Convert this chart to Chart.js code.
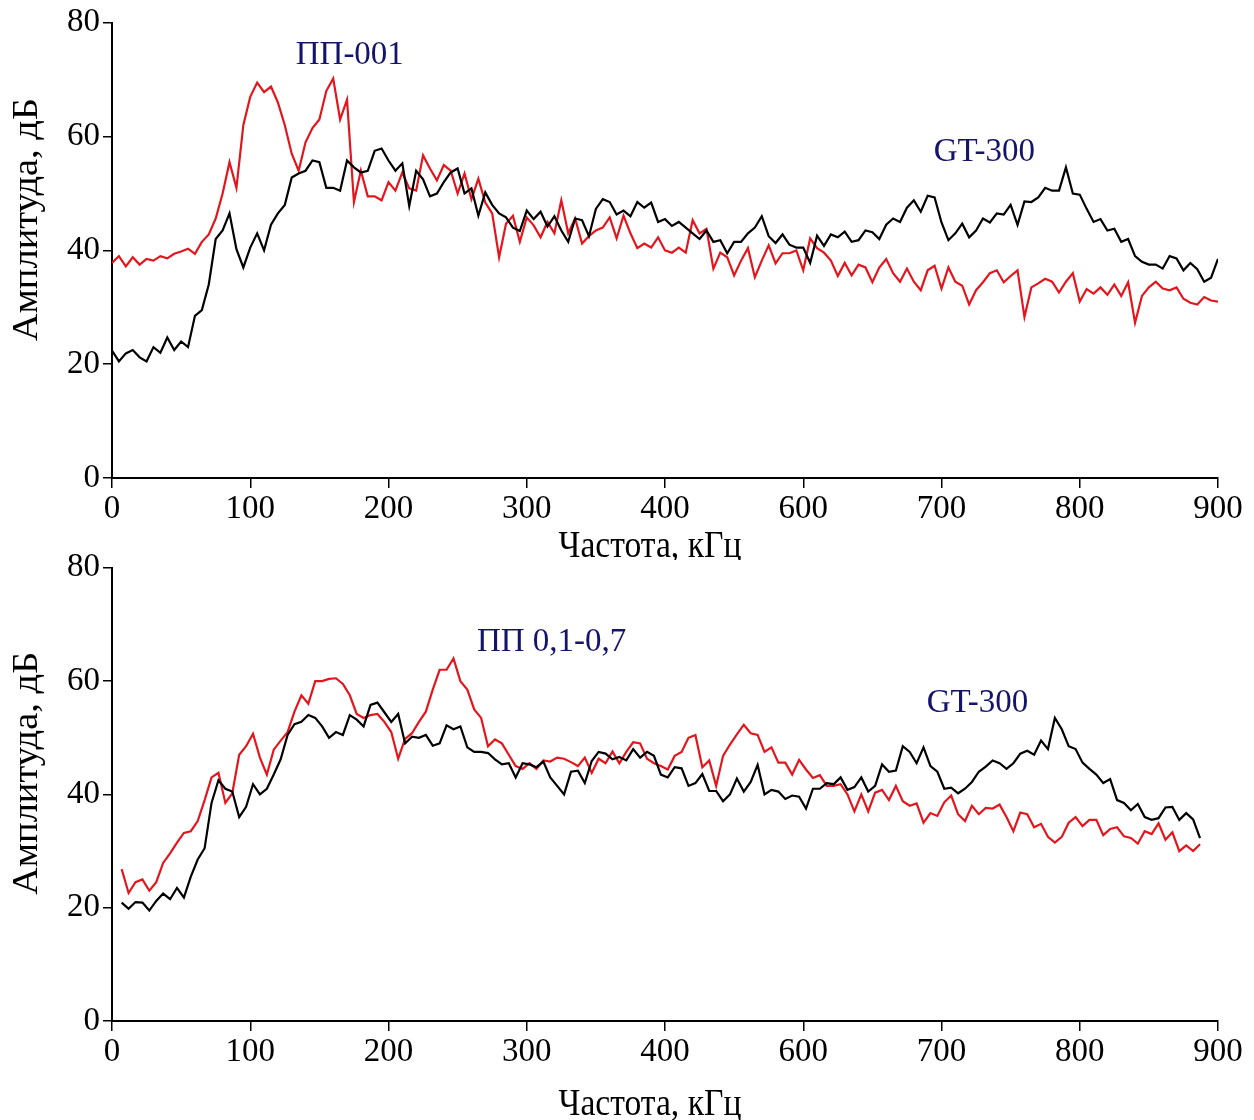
<!DOCTYPE html>
<html lang="ru">
<head>
<meta charset="UTF-8">
<title>Амплитуда — частота</title>
<script src="https://cdn.jsdelivr.net/npm/chart.js"></script>
<style>
    body {
        margin: 0;
        background: #fff;
    }

    .panel {
        position: absolute;
        left: 0;
    }

    #topChart { top: 0; }
    #bottomChart { top: 545px; }
</style>
</head>
<body>
<canvas id="topChart" class="panel" width="1254" height="560"></canvas>
<canvas id="bottomChart" class="panel" width="1254" height="575"></canvas>

<script>
// tick labels as printed on the x axis (note: there is no 500)
const xTickLabels = ['0', '100', '200', '300', '400', '600', '700', '800', '900'];
const yTicks = [0, 20, 40, 60, 80];

// sampling of the curves along the x axis (axis units, 100 per tick)
const freqStep = 5;
const topStart = 0;
const bottomStart = 7;

// upper panel: ПП-001 (red) and GT-300 (black)
const pp001 = [
    37.8, 39, 37.2, 38.8, 37.5, 38.5, 38.2, 39, 38.6, 39.4,
    39.8, 40.3, 39.4, 41.5, 42.8, 45.6, 50, 55.5, 51, 62,
    67, 69.5, 67.8, 68.8, 66, 62, 57, 54, 59, 61.5,
    63, 68, 70.2, 63, 66.5, 48.5, 54, 49.5, 49.5, 48.8,
    52, 50.5, 53.7, 50.9, 50.5, 56.7, 54.4, 52.3, 55, 54,
    50, 53.5, 49, 52.6, 48.4, 46.5, 38.8, 44.7, 46.1, 41.5,
    45.8, 44.4, 42.3, 45, 43, 48.8, 43, 45.6, 41.2, 42.5,
    43.5, 44, 45.8, 42.1, 46.1, 43, 40.4, 41.2, 40.5, 42.3,
    40, 39.6, 40.5, 39.6, 45.3, 43, 43.8, 36.8, 39.6, 38.8,
    35.6, 38.2, 40.4, 35.3, 38.2, 40.9, 37.7, 39.5, 39.5, 40,
    36.5, 42.1, 40.4, 39.6, 38.2, 35.5, 37.8, 35.6, 37.5, 37,
    34.4, 37, 38.5, 36, 34.5, 36.8, 34.5, 33, 36.5, 37.3,
    33.3, 37, 34.5, 33.8, 30.5, 33, 34.4, 36, 36.5, 34.4,
    35.5, 36.5, 28.3, 33.5, 34.2, 35, 34.5, 32.6, 34.5, 36,
    31, 33.2, 32.4, 33.5, 32.2, 34, 32, 34.4, 27.3, 32,
    33.5, 34.5, 33.3, 33, 33.5, 31.5, 30.8, 30.5, 31.8, 31.2,
    31
];
const gt300Top = [
    22.4, 20.5, 21.9, 22.5, 21.2, 20.5, 23, 22, 24.7, 22.5,
    24, 23, 28.5, 29.5, 34, 42, 43.5, 46.5, 40.2, 37,
    40.5, 43, 40, 44.5, 46.5, 48, 52.8, 53.5, 54, 55.8,
    55.5, 51, 51, 50.5, 55.8, 54.6, 53.7, 54, 57.5, 57.9,
    55.8, 54, 55.3, 47.8, 54, 52.5, 49.5, 50, 52, 53.7,
    54.4, 50, 50.9, 46.1, 50.2, 48, 46.5, 45.8, 44, 43.4,
    47, 45.5, 46.8, 44.2, 46, 43.5, 41.5, 45.6, 45.3, 42.5,
    47.3, 49, 48.5, 46.3, 47, 46, 48.5, 47.5, 48.4, 45,
    45.5, 44.3, 45, 44, 43, 42, 43.5, 41.5, 41.8, 39.5,
    41.5, 41.5, 43, 44, 46, 42.5, 41.3, 42.8, 41, 40.5,
    40.5, 37.8, 42.6, 40.8, 42.8, 42.3, 43.3, 41.5, 41.8, 43.5,
    43.2, 42, 44.5, 45.6, 45, 47.5, 48.8, 46.8, 49.6, 49.3,
    44.9, 41.8, 43, 44.7, 42.3, 43.5, 45.6, 44.9, 46.5, 46.3,
    48, 44.5, 48.6, 48.5, 49.3, 51, 50.5, 50.5, 54.6, 50,
    49.8, 47.3, 45, 45.5, 43.5, 43.8, 41.5, 42, 39, 38,
    37.5, 37.5, 36.8, 39, 38.6, 36.5, 37.8, 36.7, 34.5, 35.2,
    38.5
];

// lower panel: ПП 0,1-0,7 (red) and GT-300 (black)
const pp0107 = [
    26.8, 22.6, 24.5, 25, 23, 24.5, 27.9, 29.6, 31.5, 33.2,
    33.5, 35.3, 39, 43, 43.8, 38.5, 40.2, 47, 48.5, 50.7,
    46.5, 43.5, 47.9, 49.5, 51, 54.6, 57.5, 56, 60, 60,
    60.4, 60.5, 59.5, 57.5, 54.2, 53.5, 54, 54.2, 52.8, 51,
    46.3, 49.8, 50.8, 52.8, 54.6, 58.5, 62, 62, 64, 60,
    58.5, 55, 53.5, 48.5, 49.7, 49, 47, 45, 44.5, 45.5,
    44.5, 46, 45.8, 46.5, 46.3, 45.7, 45, 46.5, 43.8, 46.3,
    45.5, 47.6, 45.5, 47.5, 49.2, 49, 46.3, 45.5, 45, 44.4,
    46.8, 47.5, 50, 50.5, 44.8, 46, 41.5, 46.8, 48.8, 50.6,
    52.3, 50.8, 50.5, 47.5, 48.3, 45.6, 45.6, 43.5, 46.1, 44.4,
    42.9, 43.4, 41.5, 41.5, 41.8, 40, 37, 40, 37, 40.3,
    40.8, 39, 41.5, 38.8, 38, 38.4, 35, 36.7, 36.2, 38.6,
    39.8, 36.5, 35.3, 38, 36.5, 37.6, 37.5, 38.2, 36, 33.5,
    36.8, 36.5, 34.2, 34.8, 32.5, 31.5, 32.5, 35, 36, 34.4,
    35.5, 35.5, 32.8, 33.9, 34.2, 32.6, 32.3, 31.3, 33.5, 33,
    34.9, 32, 33.3, 30, 31, 30, 31.2
];
const gt300Bottom = [
    20.9, 19.8, 21, 20.9, 19.5, 21.2, 22.5, 21.5, 23.5, 21.8,
    25.5, 28.5, 30.5, 38.5, 42.5, 41, 40.5, 36, 37.8, 41.8,
    40, 41, 43.5, 46.2, 50.5, 52.4, 52.8, 54, 53.5, 52,
    50, 51, 50.5, 54, 53.2, 52, 55.8, 56.2, 54.5, 52.8,
    54.2, 49, 50.2, 50, 50.5, 48.6, 49, 52.2, 51.5, 52,
    48.3, 47.5, 47.5, 47.3, 46.2, 45.3, 45.5, 43, 45.5, 45.3,
    44.8, 45.8, 43, 41.5, 40, 44, 44.2, 42, 45.9, 47.5,
    47.2, 46.2, 46.6, 46, 48, 46.5, 47.5, 46.8, 43.5, 43,
    44.8, 44.6, 41.5, 42, 43.6, 40.6, 40.6, 38.8, 40, 42.8,
    40.5, 42.2, 45.2, 40, 40.8, 40.5, 39.2, 39.8, 39.6, 37.5,
    41, 41, 42, 41.8, 43, 40.8, 41.3, 43, 40.5, 41.5,
    45.3, 44, 44.2, 48.5, 47.5, 45.5, 48.3, 45, 44, 41,
    41.2, 40.2, 41, 42.2, 44, 44.9, 46, 45.5, 44.5, 45.5,
    47.2, 47.7, 47, 49.5, 48, 53.5, 51.5, 48.5, 48, 45.6,
    44.5, 43.5, 42, 42.7, 39, 38.5, 37.2, 38.3, 36, 35.5,
    35.8, 37.7, 37.8, 35.5, 36.7, 35.6, 32.3
];

const RED = '#e3161d';
const BLACK = '#000000';
const NAVY = '#14146b';
const SERIF = '"Liberation Serif", "Times New Roman", serif';

function toPoints(values, start) {
    return values.map((v, i) => ({ x: start + i * freqStep, y: v }));
}

// axis titles and curve names, drawn after the chart
const panelText = {
    id: 'panelText',
    afterDraw(chart, args, opts) {
        const ctx = chart.ctx;
        const xs = chart.scales.x;
        const ys = chart.scales.y;
        ctx.save();
        ctx.textAlign = 'center';
        ctx.textBaseline = 'middle';
        ctx.fillStyle = '#000';
        ctx.font = '35px ' + SERIF;

        // vertical title, a little stretched along its length like the original
        ctx.save();
        ctx.translate(28, ys.getPixelForValue(opts.yTitleAt));
        ctx.rotate(-Math.PI / 2);
        ctx.scale(1.1, 1);
        ctx.fillText('Амплитуда, дБ', 0, 0);
        ctx.restore();

        ctx.save();
        ctx.translate(650, opts.xTitleY);
        ctx.scale(0.96, 1.08);
        ctx.fillText('Частота, кГц', 0, 0);
        ctx.restore();

        ctx.fillStyle = NAVY;
        ctx.font = '33px ' + SERIF;
        opts.notes.forEach(n => {
            ctx.fillText(n.text, xs.getPixelForValue(n.x), ys.getPixelForValue(n.y));
        });
        ctx.restore();
    }
};

function makePanel(id, red, black, start, canvasH, plotTop, plotBottom, textOpts) {
    new Chart(document.getElementById(id), {
        type: 'line',
        data: {
            datasets: [
                { data: toPoints(black, start), borderColor: BLACK, borderWidth: 2.2 },
                { data: toPoints(red, start), borderColor: RED, borderWidth: 2.2 }
            ]
        },
        options: {
            responsive: false,
            animation: false,
            elements: {
                point: { radius: 0 },
                line: { tension: 0 }
            },
            layout: { padding: { top: plotTop, right: 36, left: 0, bottom: 0 } },
            plugins: {
                legend: { display: false },
                tooltip: { enabled: false },
                panelText: textOpts
            },
            scales: {
                x: {
                    type: 'linear',
                    min: 0,
                    max: 800,
                    afterFit: s => { s.height = canvasH - plotBottom; },
                    afterBuildTicks: s => { s.ticks = xTickLabels.map((t, i) => ({ value: i * 100 })); },
                    ticks: {
                        color: '#000',
                        padding: 2,
                        maxRotation: 0,
                        autoSkip: false,
                        font: { family: SERIF, size: 33 },
                        callback: (v) => xTickLabels[Math.round(v / 100)]
                    },
                    grid: { drawOnChartArea: false, tickLength: 10, color: '#000', lineWidth: 1.5 },
                    border: { color: '#000', width: 2 }
                },
                y: {
                    min: 0,
                    max: 80,
                    afterFit: s => { s.width = 112; },
                    afterBuildTicks: s => { s.ticks = yTicks.map(v => ({ value: v })); },
                    ticks: {
                        color: '#000',
                        padding: 3,
                        font: { family: SERIF, size: 33 }
                    },
                    grid: { drawOnChartArea: false, tickLength: 9, color: '#000', lineWidth: 1.5 },
                    border: { color: '#000', width: 2 }
                }
            }
        },
        plugins: [panelText]
    });
}

// top canvas starts at page y 0, bottom canvas at page y 545
makePanel('topChart', pp001, gt300Top, topStart, 560, 22, 478, {
    yTitleAt: 45.4,
    xTitleY: 547,
    notes: [
        { text: 'ПП-001', x: 172, y: 74.2 },
        { text: 'GT-300', x: 631, y: 57.2 }
    ]
});

makePanel('bottomChart', pp0107, gt300Bottom, bottomStart, 575, 21, 476, {
    yTitleAt: 43.7,
    xTitleY: 560,
    notes: [
        { text: 'ПП 0,1-0,7', x: 318, y: 66.8 },
        { text: 'GT-300', x: 626, y: 56 }
    ]
});
</script>
</body>
</html>
